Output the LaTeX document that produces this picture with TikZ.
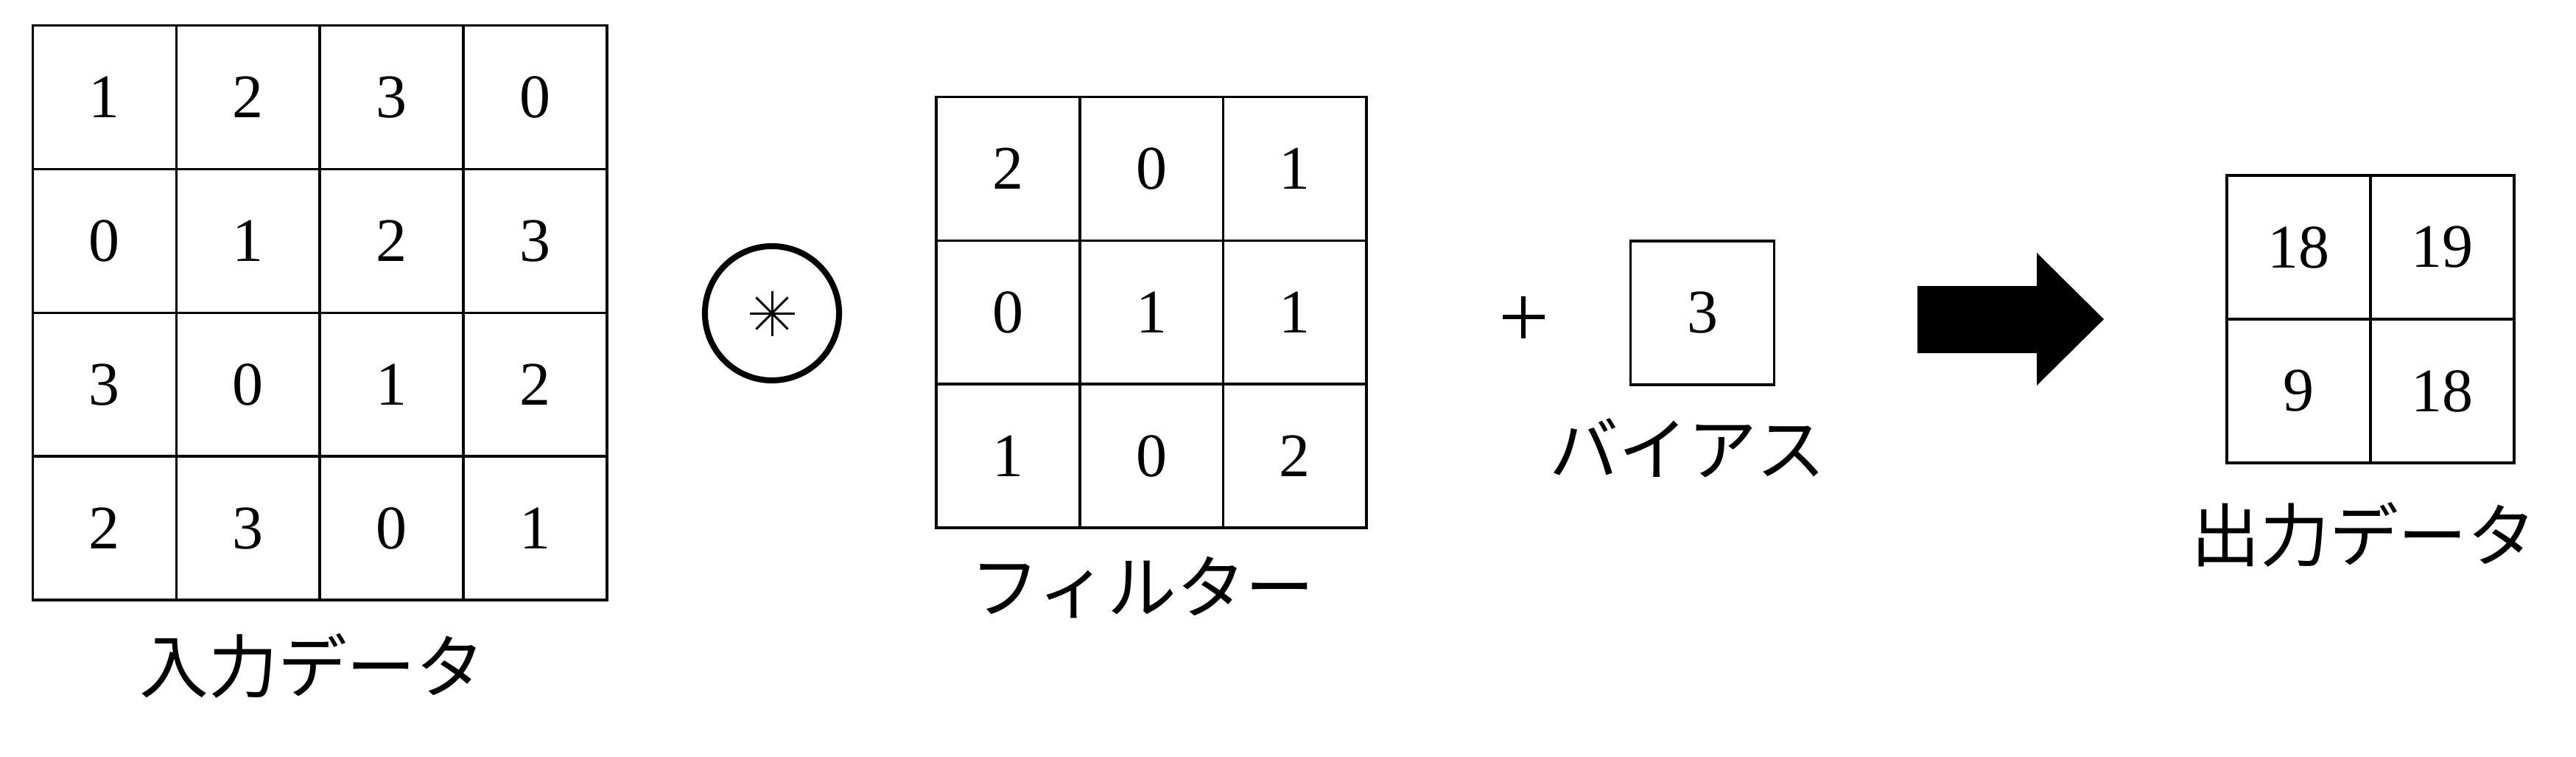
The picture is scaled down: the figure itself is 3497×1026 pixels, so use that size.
\documentclass[tikz,border=0pt]{standalone}
\usepackage{fontspec}
\setmainfont{Liberation Serif}
\newfontfamily\jpfont{Noto Sans CJK JP}
\begin{document}
\begin{tikzpicture}[x=0.01cm,y=-0.01cm,
  cellbox/.style={draw=black,line width=1pt,minimum size=1.949cm,inner sep=0pt,
    font=\fontsize{23.9pt}{26pt}\selectfont},
  jplabel/.style={inner sep=0pt,font=\jpfont\fontsize{26.7pt}{30pt}\selectfont}]
\useasboundingbox (0,0) rectangle (3497,1026);
% input data 4x4
\foreach \row [count=\r from 0] in {{1,2,3,0},{0,1,2,3},{3,0,1,2},{2,3,0,1}}{
  \foreach \v [count=\c from 0] in \row {
    \node[cellbox] (in-\r-\c) at ({141.95+194.9*\c},{131.95+194.9*\r}) {\v};
  }
}
\node[jplabel] (inlabel) at (424,903) {入力データ};
% convolution operator
\node[circle,draw=black,line width=2.3pt,minimum size=1.82cm,inner sep=0pt] (conv) at (1048,425) {};
\foreach \a in {0,45,90,135}{
  \draw[line width=0.85pt] (conv.center) ++(\a:30.5) -- ++(\a+180:61);
}
% filter 3x3
\foreach \row [count=\r from 0] in {{2,0,1},{0,1,1},{1,0,2}}{
  \foreach \v [count=\c from 0] in \row {
    \node[cellbox,minimum size=1.947cm] (f-\r-\c) at ({1368.35+194.7*\c},{229.05+194.7*\r}) {\v};
  }
}
\node[jplabel] (flabel) at (1551,797) {フィルター};
% plus sign
\coordinate (plus) at (2068,430);
\draw[line width=1.7pt] (plus) ++(-28.5,0) -- ++(57,0);
\draw[line width=1.7pt] (plus) ++(0,-28.5) -- ++(0,57);
% bias
\node[cellbox,minimum size=1.95cm] (bias) at (2311,424.5) {3};
\node[jplabel] (blabel) at (2291,608) {バイアス};
% block arrow
\fill[black] (2603,388) -- (2765,388) -- (2765,343) -- (2856,433) -- (2765,523)
  -- (2765,479) -- (2603,479) -- cycle;
% output 2x2
\foreach \row [count=\r from 0] in {{18,19},{9,18}}{
  \foreach \v [count=\c from 0] in \row {
    \node[cellbox,minimum size=1.95cm] (out-\r-\c) at ({3120.5+195*\c},{335.5+195*\r}) {\v};
  }
}
\node[jplabel] (olabel) at (3209,725) {出力データ};
\end{tikzpicture}
\end{document}
